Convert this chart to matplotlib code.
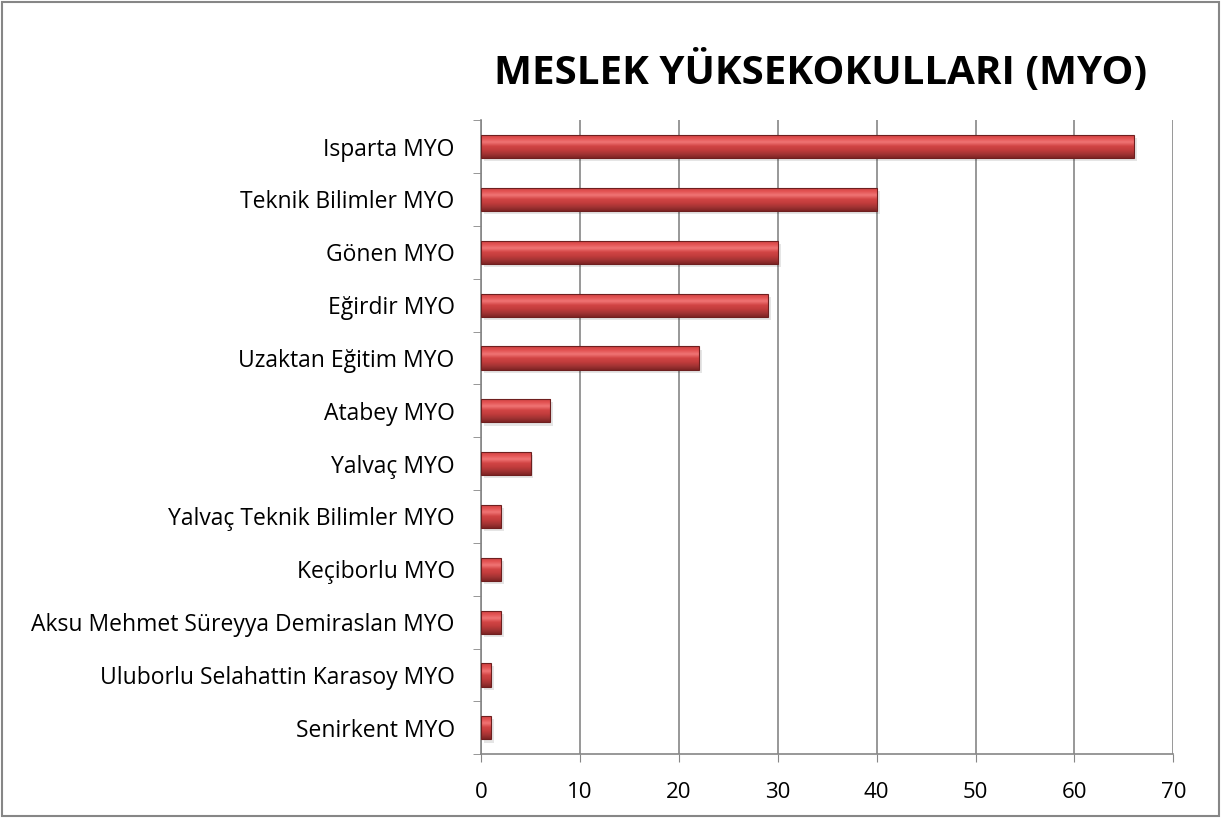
import numpy as np
import matplotlib
matplotlib.use("Agg")
import matplotlib.pyplot as plt
from matplotlib.colors import LinearSegmentedColormap
from matplotlib.patches import Rectangle

plt.rcParams['font.family'] = ['Open Sans', 'DejaVu Sans']

okullar = ["Isparta MYO", "Teknik Bilimler MYO", "Gönen MYO", "Eğirdir MYO",
           "Uzaktan Eğitim MYO", "Atabey MYO", "Yalvaç MYO",
           "Yalvaç Teknik Bilimler MYO", "Keçiborlu MYO",
           "Aksu Mehmet Süreyya Demiraslan MYO",
           "Uluborlu Selahattin Karasoy MYO", "Senirkent MYO"]
sayilar = [66, 40, 30, 29, 22, 7, 5, 2, 2, 2, 1, 1]
x_ticks = [0, 10, 20, 30, 40, 50, 60, 70]

fig = plt.figure(figsize=(12.21, 8.18), dpi=100)
ax = fig.add_axes([0.394, 0.078, 0.567, 0.775])

n = len(okullar)
ypos = np.arange(n)[::-1]
h = 0.44

# vertical gradient for the bevelled bars
grad = LinearSegmentedColormap.from_list("kirmizi",
    ["#7f2424", "#a33434", "#c23c3c", "#d24545", "#f07474", "#e25252", "#cc4040"])
g = np.linspace(0, 1, 64).reshape(-1, 1)

bars = ax.barh(ypos, sayilar, height=h, color="none", edgecolor="#6e1f1f",
               linewidth=0.8, zorder=3)
for b, v in zip(bars, sayilar):
    y0 = b.get_y()
    # shadow
    ax.add_patch(Rectangle((0.3, y0 - 0.06), v, h, color="#000000",
                           alpha=0.10, lw=0, zorder=2))
    im = ax.imshow(g, cmap=grad, aspect="auto", origin="lower",
                   extent=[0, v, y0, y0 + h], zorder=2.5)
    im.set_clip_path(b)

ax.set_xlim(0, 70)
ax.set_ylim(-0.5, n - 0.5)
ax.set_xticks(x_ticks)
ax.set_yticks(ypos)
ax.set_yticklabels(okullar)
ax.set_yticks(np.arange(-0.5, n, 1), minor=True)
ax.tick_params(axis="y", which="major", length=0, pad=19, labelsize=16.5)
ax.tick_params(axis="y", which="minor", length=6, color="#868686")
ax.tick_params(axis="x", length=6, color="#868686", labelsize=16, pad=14)
ax.xaxis.grid(True, color="#868686", linewidth=1.2, zorder=0)
ax.set_axisbelow(True)
for s in ["top", "right"]:
    ax.spines[s].set_visible(False)
for s in ["left", "bottom"]:
    ax.spines[s].set_color("#868686")
    ax.spines[s].set_linewidth(1.2)

fig.text(0.672, 0.912, "MESLEK YÜKSEKOKULLARI (MYO)", ha="center",
         va="center", fontsize=29, fontweight="bold")

fig.patches.append(Rectangle((0.002, 0.002), 0.996, 0.995,
                             transform=fig.transFigure, fill=False,
                             edgecolor="#868686", linewidth=1.5))

fig.savefig("out.png", dpi=100)
